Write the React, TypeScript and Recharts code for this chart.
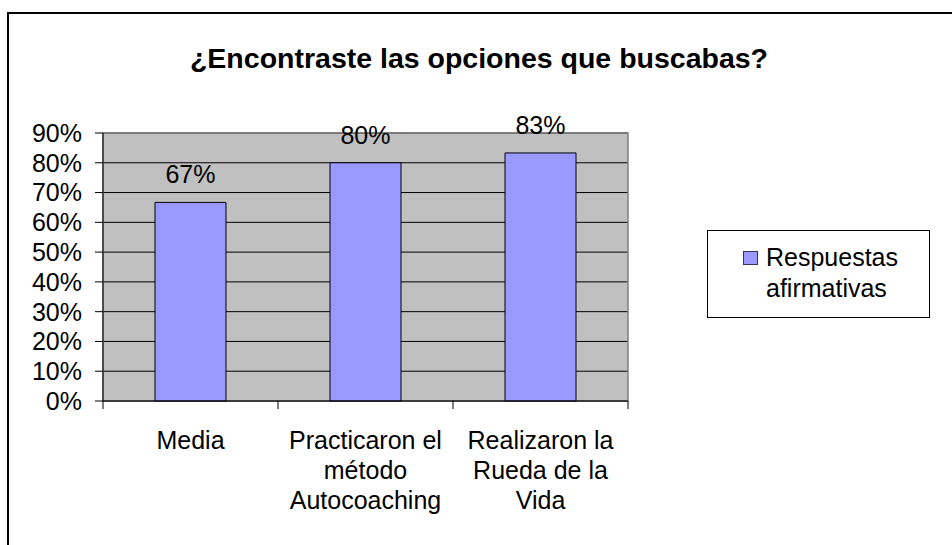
import { BarChart, Bar, XAxis, YAxis, CartesianGrid, ReferenceArea, LabelList } from "recharts";

const CATEGORY_LINES = [
  ["Media"],
  ["Practicaron el", "método", "Autocoaching"],
  ["Realizaron la", "Rueda de la", "Vida"],
];
const CATEGORIES = CATEGORY_LINES.map((l) => l.join(" "));
const AFIRMATIVAS = [0.667, 0.8, 0.833];
const Y_TICKS = [0, 0.1, 0.2, 0.3, 0.4, 0.5, 0.6, 0.7, 0.8, 0.9];
const SERIES_NAME = "Respuestas afirmativas";
const TITLE = "¿Encontraste las opciones que buscabas?";

const data = CATEGORIES.map((c, i) => ({ name: c, value: AFIRMATIVAS[i] }));

const FONT = "'Liberation Sans', Arial, sans-serif";
const pct = (v: number) => `${Math.round(v * 100)}%`;

function CategoryTick(props: any) {
  const { x, y, payload, index, visibleTicksCount, width } = props;
  const half = payload?.offset ?? width / visibleTicksCount / 2;
  const lines = CATEGORY_LINES[index] ?? [String(payload.value)];
  return (
    <g>
      <line x1={x - half} x2={x - half} y1={y - 8} y2={y} stroke="#000" />
      {index === visibleTicksCount - 1 && (
        <line x1={x + half} x2={x + half} y1={y - 8} y2={y} stroke="#000" />
      )}
      <text textAnchor="middle" fontSize={25} fontFamily={FONT} fill="#000">
        {lines.map((l, i) => (
          <tspan key={i} x={x} y={y + 40 + i * 30}>
            {l}
          </tspan>
        ))}
      </text>
    </g>
  );
}

export default function App() {
  return (
    <div style={{ position: "absolute", left: 0, top: 0, width: 952, height: 545, background: "#fff", overflow: "hidden", fontFamily: FONT }}>
      <div
        style={{
          position: "absolute",
          left: 7,
          top: 12,
          width: 1000,
          height: 600,
          borderTop: "2px solid #000",
          borderLeft: "2px solid #000",
        }}
      />
      <div
        style={{
          position: "absolute",
          left: 0,
          top: 42,
          width: 958,
          textAlign: "center",
          fontSize: 28.5,
          fontWeight: "bold",
          color: "#000",
          whiteSpace: "nowrap",
        }}
      >
        {TITLE}
      </div>
      <BarChart
        width={952}
        height={545}
        data={data}
        margin={{ top: 133, right: 324, left: 43, bottom: 44 }}
        style={{ position: "absolute", left: 0, top: 0 }}
      >
        <CartesianGrid vertical={false} stroke="#000" fill="#C0C0C0" fillOpacity={1} />
        <ReferenceArea y1={0} y2={0.9} fill="none" stroke="#808080" strokeWidth={1.5} />
        <XAxis
          dataKey="name"
          interval={0}
          height={100}
          tickLine={false}
          tickSize={8}
          tickMargin={0}
          axisLine={{ stroke: "#000" }}
          tick={<CategoryTick />}
        />
        <YAxis
          width={60}
          domain={[0, 0.9]}
          ticks={Y_TICKS}
          interval={0}
          tickFormatter={pct}
          tickSize={8}
          tickMargin={13}
          axisLine={{ stroke: "#000" }}
          tickLine={{ stroke: "#000" }}
          tick={{ fontSize: 25, fill: "#000", fontFamily: FONT }}
        />
        <Bar dataKey="value" name={SERIES_NAME} fill="#9999FF" stroke="#000" strokeWidth={1} barSize={71} isAnimationActive={false}>
          <LabelList dataKey="value" position="top" offset={19} formatter={(v: any) => pct(Number(v))} style={{ fontSize: 25, fill: "#000", fontFamily: FONT }} />
        </Bar>
      </BarChart>
      <div
        style={{
          position: "absolute",
          left: 707,
          top: 230,
          width: 221,
          height: 86,
          border: "1px solid #000",
          background: "#fff",
        }}
      >
        <div
          style={{
            position: "absolute",
            left: 35,
            top: 20,
            width: 13,
            height: 12,
            background: "#9999FF",
            border: "1px solid #333366",
          }}
        />
        <div style={{ position: "absolute", left: 58, top: 11, fontSize: 25, lineHeight: "31px", color: "#000", whiteSpace: "nowrap" }}>
          {SERIES_NAME.split(" ").map((w, i) => (
            <div key={i}>{w}</div>
          ))}
        </div>
      </div>
    </div>
  );
}
